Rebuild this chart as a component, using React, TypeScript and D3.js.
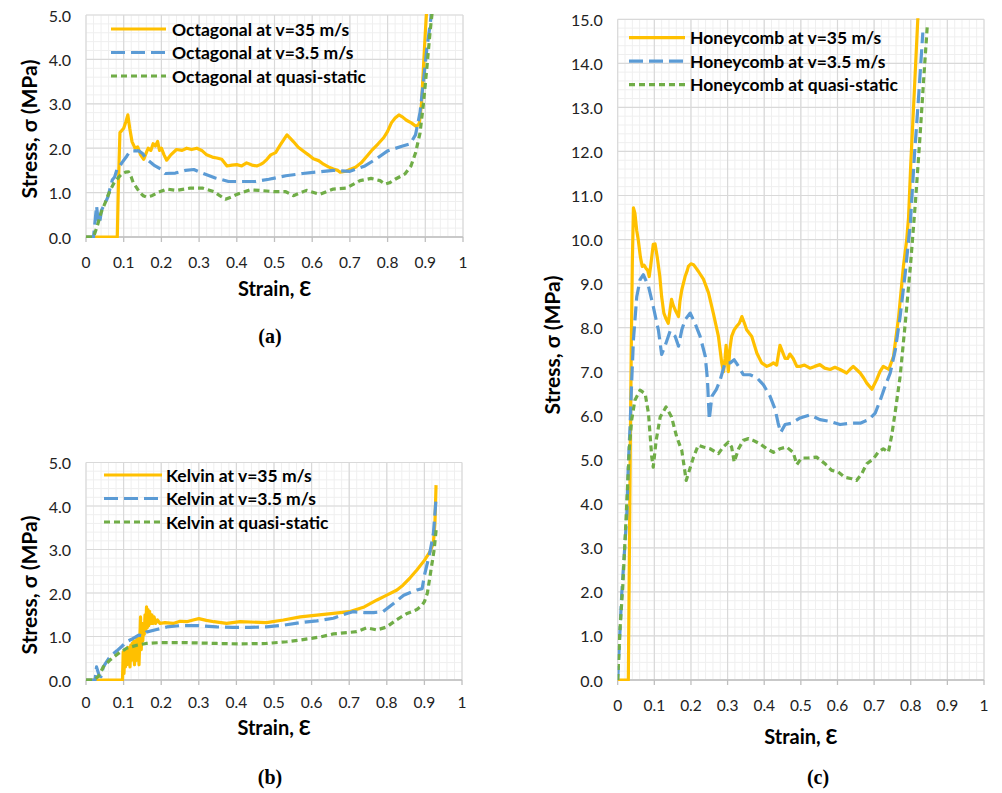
import React from 'react';
import * as d3 from 'd3';

// strain / stress pairs
const octagonal35: [number, number][] = [
  [0, 0], [0.083, 0], [0.086, 1.2], [0.09, 2.35], [0.095, 2.4], [0.1, 2.45], [0.106, 2.6], [0.111, 2.75],
  [0.116, 2.45], [0.122, 2.15], [0.13, 2.0], [0.137, 2.03], [0.145, 1.85], [0.153, 1.75], [0.16, 1.9],
  [0.165, 2.0], [0.172, 1.95], [0.178, 2.1], [0.184, 2.05], [0.19, 2.15], [0.195, 1.95], [0.2, 2.0],
  [0.207, 1.85], [0.214, 1.73], [0.225, 1.85], [0.24, 1.97], [0.255, 1.95], [0.267, 2.0], [0.28, 1.97],
  [0.294, 2.0], [0.307, 1.95], [0.32, 1.85], [0.335, 1.8], [0.347, 1.78], [0.36, 1.75], [0.374, 1.6],
  [0.387, 1.62], [0.4, 1.63], [0.413, 1.6], [0.426, 1.67], [0.44, 1.62], [0.453, 1.6], [0.462, 1.63],
  [0.47, 1.67], [0.48, 1.75], [0.49, 1.85], [0.503, 1.9], [0.515, 2.07], [0.525, 2.2], [0.533, 2.3],
  [0.542, 2.22], [0.55, 2.15], [0.563, 2.02], [0.577, 1.93], [0.59, 1.85], [0.603, 1.76], [0.617, 1.72],
  [0.63, 1.64], [0.643, 1.58], [0.656, 1.53], [0.668, 1.5], [0.674, 1.46], [0.69, 1.48], [0.7, 1.52],
  [0.715, 1.57], [0.73, 1.67], [0.745, 1.82], [0.76, 1.97], [0.775, 2.1], [0.79, 2.24], [0.8, 2.38],
  [0.81, 2.57], [0.82, 2.68], [0.83, 2.75], [0.84, 2.7], [0.85, 2.63], [0.863, 2.57], [0.876, 2.49],
  [0.884, 2.55], [0.89, 3.0], [0.895, 3.8], [0.9, 4.6], [0.905, 5.3],
];
const octagonal3_5: [number, number][] = [
  [0, 0], [0.02, 0], [0.024, 0.35], [0.028, 0.7], [0.032, 0.4], [0.036, 0.3], [0.041, 0.6], [0.05, 0.75],
  [0.058, 0.9], [0.064, 1.1], [0.07, 1.29], [0.076, 1.35], [0.082, 1.52], [0.09, 1.6], [0.095, 1.67],
  [0.108, 1.82], [0.116, 1.92], [0.125, 1.94], [0.14, 1.94], [0.15, 1.88], [0.16, 1.76], [0.18, 1.62],
  [0.2, 1.52], [0.21, 1.43], [0.237, 1.44], [0.264, 1.5], [0.286, 1.52], [0.308, 1.44], [0.343, 1.33],
  [0.378, 1.25], [0.414, 1.25], [0.45, 1.25], [0.485, 1.3], [0.53, 1.38], [0.575, 1.43], [0.62, 1.47],
  [0.656, 1.5], [0.7, 1.48], [0.74, 1.6], [0.77, 1.76], [0.8, 1.94], [0.84, 2.05], [0.86, 2.1],
  [0.874, 2.3], [0.886, 2.8], [0.895, 3.5], [0.904, 4.23], [0.913, 4.8], [0.918, 5.2],
];
const octagonalQS: [number, number][] = [
  [0, 0], [0.02, 0], [0.03, 0.25], [0.04, 0.55], [0.05, 0.75], [0.058, 0.93], [0.066, 1.08], [0.075, 1.23],
  [0.085, 1.33], [0.095, 1.42], [0.105, 1.46], [0.113, 1.47], [0.12, 1.35], [0.125, 1.23], [0.135, 1.1],
  [0.143, 1.0], [0.152, 0.93], [0.16, 0.9], [0.175, 0.93], [0.19, 1.0], [0.214, 1.08], [0.24, 1.05],
  [0.276, 1.1], [0.31, 1.1], [0.34, 1.02], [0.355, 0.93], [0.37, 0.85], [0.385, 0.9], [0.4, 0.96],
  [0.435, 1.06], [0.46, 1.05], [0.5, 1.02], [0.53, 1.02], [0.55, 0.93], [0.585, 1.05], [0.62, 0.96],
  [0.656, 1.08], [0.69, 1.1], [0.727, 1.27], [0.756, 1.32], [0.78, 1.27], [0.793, 1.19], [0.805, 1.22],
  [0.82, 1.3], [0.846, 1.42], [0.862, 1.6], [0.874, 1.89], [0.886, 2.34], [0.895, 3.0], [0.904, 3.8],
  [0.913, 4.65], [0.92, 5.2],
];

const kelvin35: [number, number][] = [
  [0, 0], [0.097, 0], [0.099, 0.65], [0.101, 0.15], [0.103, 0.6], [0.105, 0.3], [0.107, 0.7], [0.109, 0.35],
  [0.111, 0.75], [0.113, 0.4], [0.115, 0.65], [0.117, 0.3], [0.119, 0.8], [0.121, 0.45], [0.123, 0.85],
  [0.125, 0.5], [0.127, 0.9], [0.129, 0.35], [0.131, 0.85], [0.133, 0.45], [0.135, 0.95], [0.137, 0.5],
  [0.139, 1.0], [0.141, 0.35], [0.143, 0.9], [0.145, 1.45], [0.147, 0.7], [0.149, 1.3], [0.151, 0.9],
  [0.153, 1.2], [0.155, 1.05], [0.157, 1.5], [0.159, 1.15], [0.161, 1.68], [0.163, 1.2], [0.165, 1.62],
  [0.167, 1.25], [0.169, 1.58], [0.172, 1.3], [0.175, 1.5], [0.178, 1.3], [0.181, 1.45], [0.185, 1.3],
  [0.19, 1.38], [0.197, 1.3], [0.21, 1.32], [0.232, 1.3], [0.25, 1.35], [0.268, 1.34], [0.285, 1.38],
  [0.3, 1.41], [0.32, 1.37], [0.34, 1.34], [0.374, 1.3], [0.41, 1.34], [0.48, 1.32], [0.525, 1.38],
  [0.57, 1.45], [0.614, 1.49], [0.658, 1.53], [0.7, 1.57], [0.74, 1.68], [0.774, 1.84], [0.8, 1.95],
  [0.827, 2.07], [0.843, 2.18], [0.862, 2.35], [0.88, 2.53], [0.9, 2.75], [0.915, 2.95], [0.924, 3.15],
  [0.928, 3.6], [0.931, 4.48],
];
const kelvin3_5: [number, number][] = [
  [0, 0], [0.024, 0], [0.028, 0.3], [0.035, 0.1], [0.04, 0.08], [0.046, 0.3], [0.055, 0.42], [0.064, 0.54],
  [0.075, 0.62], [0.082, 0.67], [0.095, 0.77], [0.108, 0.88], [0.12, 0.93], [0.13, 0.98], [0.14, 1.03],
  [0.15, 1.02], [0.16, 1.1], [0.188, 1.16], [0.215, 1.22], [0.25, 1.25], [0.3, 1.25], [0.348, 1.22],
  [0.39, 1.21], [0.436, 1.21], [0.48, 1.22], [0.525, 1.26], [0.57, 1.32], [0.614, 1.36], [0.658, 1.42],
  [0.694, 1.53], [0.71, 1.57], [0.74, 1.55], [0.765, 1.55], [0.79, 1.57], [0.818, 1.76], [0.845, 1.95],
  [0.88, 2.07], [0.894, 2.1], [0.9, 2.4], [0.915, 2.95], [0.924, 3.37], [0.931, 4.17],
];
const kelvinQS: [number, number][] = [
  [0, 0], [0.02, 0], [0.033, 0.08], [0.046, 0.3], [0.064, 0.46], [0.086, 0.61], [0.108, 0.73], [0.135, 0.8],
  [0.16, 0.84], [0.197, 0.86], [0.26, 0.86], [0.348, 0.84], [0.41, 0.83], [0.48, 0.84], [0.534, 0.88],
  [0.57, 0.92], [0.623, 0.99], [0.658, 1.06], [0.694, 1.09], [0.72, 1.11], [0.747, 1.2], [0.774, 1.15],
  [0.8, 1.22], [0.827, 1.39], [0.854, 1.53], [0.88, 1.62], [0.894, 1.72], [0.9, 1.8], [0.908, 2.0],
  [0.917, 2.5], [0.926, 3.0], [0.932, 3.52],
];

const honeycomb35: [number, number][] = [
  [0, 0], [0.029, 0], [0.031, 2.0], [0.034, 5.0], [0.037, 7.5], [0.04, 9.5], [0.043, 10.72], [0.047, 10.6],
  [0.052, 10.2], [0.056, 10.0], [0.062, 9.6], [0.067, 9.39], [0.072, 9.42], [0.077, 9.35], [0.082, 9.3],
  [0.086, 9.16], [0.09, 9.4], [0.097, 9.89], [0.102, 9.9], [0.108, 9.6], [0.115, 9.16], [0.12, 8.7],
  [0.126, 8.33], [0.132, 8.2], [0.138, 8.1], [0.143, 8.4], [0.147, 8.64], [0.152, 8.5], [0.157, 8.4],
  [0.166, 8.25], [0.17, 8.6], [0.175, 8.86], [0.184, 9.16], [0.19, 9.3], [0.193, 9.39], [0.2, 9.45],
  [0.207, 9.43], [0.214, 9.35], [0.22, 9.28], [0.234, 9.1], [0.248, 8.79], [0.261, 8.33], [0.275, 7.8],
  [0.284, 7.2], [0.289, 7.0], [0.293, 7.3], [0.296, 7.6], [0.299, 7.3], [0.302, 7.0], [0.306, 7.5],
  [0.311, 7.8], [0.318, 7.95], [0.325, 8.03], [0.332, 8.1], [0.339, 8.25], [0.346, 8.1], [0.352, 7.95],
  [0.366, 7.8], [0.38, 7.42], [0.393, 7.2], [0.407, 7.12], [0.416, 7.15], [0.425, 7.2], [0.434, 7.15],
  [0.443, 7.6], [0.45, 7.45], [0.457, 7.3], [0.464, 7.3], [0.47, 7.4], [0.479, 7.3], [0.489, 7.12],
  [0.498, 7.12], [0.51, 7.15], [0.525, 7.08], [0.538, 7.12], [0.552, 7.16], [0.565, 7.08], [0.58, 7.05],
  [0.593, 7.1], [0.607, 7.05], [0.625, 6.97], [0.634, 7.05], [0.643, 7.12], [0.652, 7.05], [0.662, 6.97],
  [0.672, 6.85], [0.68, 6.74], [0.694, 6.6], [0.707, 6.82], [0.716, 7.0], [0.725, 7.12], [0.74, 7.05],
  [0.753, 7.35], [0.767, 8.25], [0.78, 9.39], [0.789, 10.0], [0.794, 10.5], [0.8, 11.7], [0.81, 13.4],
  [0.821, 15.3],
];
const honeycomb3_5: [number, number][] = [
  [0, 0], [0.005, 0.9], [0.011, 1.95], [0.018, 2.86], [0.025, 3.77], [0.029, 4.9], [0.034, 5.8],
  [0.038, 6.75], [0.043, 7.73], [0.052, 8.7], [0.061, 9.09], [0.07, 9.2], [0.084, 8.94], [0.097, 8.48],
  [0.111, 7.95], [0.12, 7.39], [0.129, 7.58], [0.143, 7.92], [0.15, 7.85], [0.157, 7.8], [0.166, 7.58],
  [0.175, 7.95], [0.184, 8.18], [0.198, 8.33], [0.211, 8.1], [0.225, 7.8], [0.239, 7.35], [0.245, 6.82],
  [0.25, 5.91], [0.257, 6.44], [0.269, 6.59], [0.28, 6.82], [0.293, 7.2], [0.307, 7.2], [0.318, 7.27],
  [0.33, 7.12], [0.343, 6.93], [0.361, 6.93], [0.38, 6.86], [0.398, 6.7], [0.416, 6.44], [0.43, 6.14],
  [0.438, 5.83], [0.445, 5.62], [0.457, 5.8], [0.475, 5.83], [0.498, 5.95], [0.525, 6.02], [0.552, 5.91],
  [0.58, 5.87], [0.607, 5.8], [0.634, 5.83], [0.662, 5.83], [0.685, 5.91], [0.703, 6.06], [0.717, 6.36],
  [0.73, 6.67], [0.744, 6.97], [0.758, 7.5], [0.771, 8.25], [0.785, 9.24], [0.799, 10.38], [0.81, 11.9],
  [0.822, 13.3], [0.833, 14.7],
];
const honeycombQS: [number, number][] = [
  [0, 0], [0.006, 1.12], [0.0137, 2.1], [0.02, 3.17], [0.026, 4.23], [0.032, 5.29], [0.038, 5.9],
  [0.047, 6.35], [0.061, 6.58], [0.075, 6.5], [0.084, 6.05], [0.093, 5.06], [0.097, 4.83], [0.105, 5.44],
  [0.116, 5.97], [0.132, 6.2], [0.147, 5.97], [0.161, 5.52], [0.175, 5.21], [0.187, 4.53], [0.196, 4.77],
  [0.207, 5.06], [0.22, 5.33], [0.234, 5.29], [0.252, 5.25], [0.275, 5.14], [0.288, 5.29], [0.302, 5.4],
  [0.311, 5.29], [0.318, 4.95], [0.33, 5.25], [0.343, 5.44], [0.357, 5.48], [0.37, 5.44], [0.389, 5.36],
  [0.407, 5.25], [0.425, 5.17], [0.443, 5.25], [0.461, 5.29], [0.479, 5.17], [0.489, 4.89], [0.502, 5.04],
  [0.52, 5.04], [0.543, 5.06], [0.566, 4.91], [0.584, 4.76], [0.602, 4.72], [0.62, 4.6], [0.639, 4.57],
  [0.652, 4.53], [0.666, 4.68], [0.68, 4.91], [0.698, 5.02], [0.711, 5.17], [0.725, 5.25], [0.739, 5.17],
  [0.748, 5.55], [0.757, 6.05], [0.771, 6.89], [0.785, 8.1], [0.799, 9.39], [0.812, 10.76], [0.825, 12.3],
  [0.835, 13.6], [0.845, 14.83],
];

const strainTicks = [0, 0.1, 0.2, 0.3, 0.4, 0.5, 0.6, 0.7, 0.8, 0.9, 1];
const stressTicksSmall = [0, 1, 2, 3, 4, 5];
const stressTicksLarge = [0, 1, 2, 3, 4, 5, 6, 7, 8, 9, 10, 11, 12, 13, 14, 15];
const seriesSuffix = ['at v=35 m/s', 'at v=3.5 m/s', 'at quasi-static'];

const styles = [
  { color: '#FFC000', dash: null },
  { color: '#5B9BD5', dash: '14,6' },
  { color: '#70AD47', dash: '6,4' },
];

const FONT = 'Lato, "Open Sans", sans-serif';

type PanelProps = {
  id: string;
  name: string;
  series: [number, number][][];
  yTicks: number[];
  left: number; right: number; top: number; bottom: number;
  legend: { x0: number; x1: number; y: number; textX: number };
  yTitle: { x: number; y: number };
  xLabelY: number; xTitleY: number;
  tag: string; tagX: number; tagY: number;
};

function Panel(p: PanelProps) {
  const yMax = p.yTicks[p.yTicks.length - 1];
  const x = d3.scaleLinear().domain([0, 1]).range([p.left, p.right]);
  const y = d3.scaleLinear().domain([0, yMax]).range([p.bottom, p.top]);
  const line = d3.line<[number, number]>().x(d => x(d[0])).y(d => y(d[1]));
  const minorX = d3.range(0, 1.0001, 0.02);
  const minorY = d3.range(0, yMax + 0.0001, 0.2);
  const clipId = `clip-${p.id}`;
  return (
    <g>
      <defs>
        <clipPath id={clipId}>
          <rect x={p.left} y={p.top - 1} width={p.right - p.left} height={p.bottom - p.top + 2} />
        </clipPath>
      </defs>
      {minorX.map((v, i) => (
        <line key={`mx${i}`} x1={x(v)} x2={x(v)} y1={p.top} y2={p.bottom} stroke="#EFEFEF" strokeWidth={1} />
      ))}
      {minorY.map((v, i) => (
        <line key={`my${i}`} x1={p.left} x2={p.right} y1={y(v)} y2={y(v)} stroke="#EFEFEF" strokeWidth={1} />
      ))}
      {strainTicks.map((v, i) => (
        <line key={`gx${i}`} x1={x(v)} x2={x(v)} y1={p.top} y2={p.bottom} stroke="#D9D9D9" strokeWidth={1.2} />
      ))}
      {p.yTicks.map((v, i) => (
        <line key={`gy${i}`} x1={p.left} x2={p.right} y1={y(v)} y2={y(v)} stroke="#D9D9D9" strokeWidth={1.2} />
      ))}
      {/* bottom axis with tick marks */}
      <line x1={p.left} x2={p.right} y1={p.bottom} y2={p.bottom} stroke="#BFBFBF" strokeWidth={1.3} />
      {strainTicks.map((v, i) => (
        <line key={`tk${i}`} x1={x(v)} x2={x(v)} y1={p.bottom} y2={p.bottom + 5} stroke="#BFBFBF" strokeWidth={1.3} />
      ))}
      {strainTicks.map((v, i) => (
        <text key={`xl${i}`} x={x(v)} y={p.xLabelY} textAnchor="middle" dominantBaseline="central"
          fontFamily={FONT} fontSize={15.5} fill="#222">{d3.format('')(v)}</text>
      ))}
      {p.yTicks.map((v, i) => (
        <text key={`yl${i}`} x={p.left - 15} y={y(v)} textAnchor="end" dominantBaseline="central"
          fontFamily={FONT} fontSize={16} fill="#222">{v.toFixed(1)}</text>
      ))}
      <g clipPath={`url(#${clipId})`}>
        {p.series.map((s, i) => (
          <path key={`s${i}`} d={line(s) || ''} fill="none" stroke={styles[i].color} strokeWidth={3.2}
            strokeDasharray={styles[i].dash || undefined} strokeLinejoin="round" />
        ))}
      </g>
      {styles.map((st, i) => (
        <g key={`lg${i}`}>
          <line x1={p.legend.x0} x2={p.legend.x1} y1={p.legend.y + i * 23.5} y2={p.legend.y + i * 23.5}
            stroke={st.color} strokeWidth={3.2} strokeDasharray={st.dash || undefined} />
          <text x={p.legend.textX} y={p.legend.y + i * 23.5} dominantBaseline="central" fontFamily={FONT}
            fontWeight="bold" fontSize={17.5} fill="#000">{`${p.name} ${seriesSuffix[i]}`}</text>
        </g>
      ))}
      <text transform={`translate(${p.yTitle.x},${p.yTitle.y}) rotate(-90)`} textAnchor="middle"
        dominantBaseline="central" fontFamily={FONT} fontWeight="bold" fontSize={21} fill="#000">
        Stress, σ (MPa)
      </text>
      <text x={(p.left + p.right) / 2} y={p.xTitleY} textAnchor="middle" dominantBaseline="central"
        fontFamily={FONT} fontWeight="bold" fontSize={20} fill="#000">Strain, Ɛ</text>
      <text x={p.tagX} y={p.tagY} textAnchor="middle" dominantBaseline="central"
        fontFamily='"Liberation Serif", "Times New Roman", serif' fontWeight="bold" fontSize={20} fill="#000">{p.tag}</text>
    </g>
  );
}

export default function App() {
  return (
    <div style={{ position: 'absolute', left: 0, top: 0, width: 1002, height: 793, background: '#fff' }}>
      <svg width={1002} height={793} viewBox="0 0 1002 793">
        <rect width={1002} height={793} fill="#fff" />
        <Panel id="a" name="Octagonal" series={[octagonal35, octagonal3_5, octagonalQS]} yTicks={stressTicksSmall}
          left={86} right={463} top={15} bottom={237}
          legend={{ x0: 111, x1: 166, y: 29, textX: 172 }} yTitle={{ x: 28, y: 129 }}
          xLabelY={262} xTitleY={288} tag="(a)" tagX={270} tagY={336} />
        <Panel id="b" name="Kelvin" series={[kelvin35, kelvin3_5, kelvinQS]} yTicks={stressTicksSmall}
          left={86} right={462} top={462.5} bottom={680}
          legend={{ x0: 104, x1: 162, y: 475, textX: 166 }} yTitle={{ x: 28, y: 585 }}
          xLabelY={702} xTitleY={727} tag="(b)" tagX={270} tagY={777} />
        <Panel id="c" name="Honeycomb" series={[honeycomb35, honeycomb3_5, honeycombQS]} yTicks={stressTicksLarge}
          left={617.7} right={984} top={19.3} bottom={680}
          legend={{ x0: 629, x1: 685, y: 37.7, textX: 690 }} yTitle={{ x: 551, y: 345 }}
          xLabelY={705} xTitleY={736} tag="(c)" tagX={818} tagY={777} />
      </svg>
    </div>
  );
}
